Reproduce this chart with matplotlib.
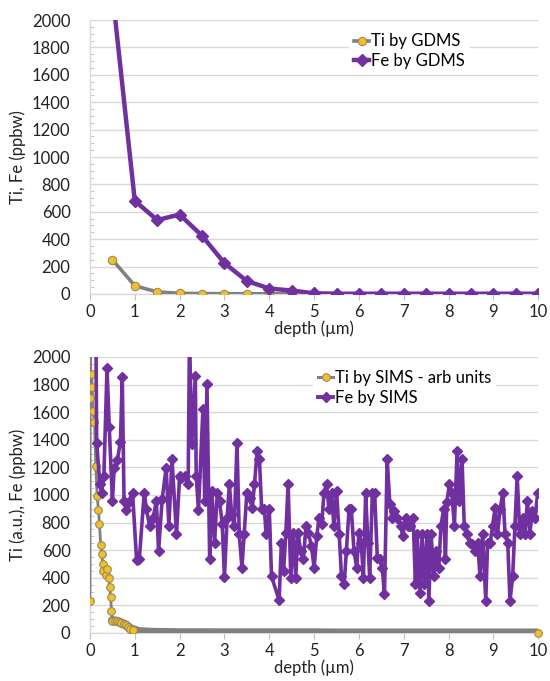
import matplotlib
matplotlib.use("Agg")
import matplotlib.pyplot as plt
from matplotlib.lines import Line2D
from matplotlib.ticker import MultipleLocator

plt.rcParams['font.family'] = ['Lato', 'DejaVu Sans']

PURPLE = '#7030A0'
GRAY = '#808080'
YELLOW = '#F2BF2A'
GRID = '#d9d9d9'

# top panel: GDMS
gdms_ti_depth = [0.5, 1, 1.5, 2, 2.5, 3, 3.5, 4, 4.5]
gdms_ti = [250, 60, 15, 5, 3, 2, 2, 1, 1]
gdms_fe_depth = [0.5, 1, 1.5, 2, 2.5, 3, 3.5, 4, 4.5, 5, 5.5, 6, 6.5, 7, 7.5, 8, 8.5, 9, 9.5, 10]
gdms_fe = [2200, 680, 540, 580, 425, 225, 95, 40, 25, 5, 2, 2, 2, 2, 2, 2, 2, 2, 2, 2]

# bottom panel: SIMS
sims_ti_depth = [0, 0.01, 0.01, 0.04, 0.05, 0.07, 0.1, 0.13, 0.16, 0.19, 0.21, 0.24, 0.27,
                 0.28, 0.3, 0.35, 0.39, 0.42, 0.44, 0.46, 0.48,
                 0.5, 0.55, 0.6, 0.65, 0.7, 0.75, 0.8, 0.85, 0.9, 0.95, 1.0, 1.05, 1.1,
                 1.15, 1.2, 1.3, 1.4, 1.5, 1.75, 2, 2.5, 3, 3.5, 4, 4.5, 5, 5.5, 6, 6.5,
                 7, 7.5, 8, 8.5, 9, 9.5, 10]
sims_ti = [230, 3000, 1700, 1875, 1780, 1605, 1530, 1210, 990, 890, 790, 640, 570,
           500, 450, 420, 465, 395, 335, 260, 160,
           90, 88, 85, 80, 72, 66, 58, 45, 32, 25, 20, 14, 11,
           9, 8, 6, 5, 4, 3, 2, 2, 1, 1, 1, 1, 1, 0, 0, 0,
           0, 0, 0, 0, 0, 0, 0]

sims_fe_depth = [0.05, 0.1, 0.15, 0.22, 0.26, 0.31, 0.38, 0.43, 0.5, 0.54, 0.61, 0.68, 0.72,
                 0.76, 0.81, 0.85, 0.95, 1.04, 1.1, 1.21, 1.26, 1.33, 1.41, 1.48, 1.53,
                 1.61, 1.7, 1.76, 1.83, 1.93, 2.0, 2.04, 2.13, 2.19, 2.22, 2.27, 2.35,
                 2.37, 2.42, 2.52, 2.56, 2.61, 2.67, 2.72, 2.78, 2.84, 2.89, 2.95, 3.0,
                 3.06, 3.11, 3.16, 3.22, 3.28, 3.33, 3.39, 3.44, 3.5, 3.56, 3.62, 3.67,
                 3.73, 3.78, 3.83, 3.89, 3.93, 4.0, 4.05, 4.22, 4.27, 4.32, 4.37, 4.42,
                 4.48, 4.54, 4.59, 4.64, 4.7, 4.76, 4.82, 4.87, 4.94, 5.0, 5.06, 5.11,
                 5.17, 5.22, 5.28, 5.33, 5.39, 5.44, 5.5, 5.56, 5.61, 5.67, 5.72, 5.78,
                 5.83, 5.89, 5.95, 6.0, 6.05, 6.1, 6.15, 6.2, 6.24, 6.3, 6.35, 6.41,
                 6.47, 6.52, 6.57, 6.63, 6.69, 6.74, 6.79, 6.85, 6.93, 6.98, 7.04, 7.09,
                 7.15, 7.21, 7.26, 7.3, 7.36, 7.41, 7.46, 7.52, 7.56, 7.61, 7.67, 7.73,
                 7.78, 7.83, 7.89, 7.93, 7.96, 8.02, 8.07, 8.13, 8.19, 8.24, 8.3, 8.35,
                 8.41, 8.47, 8.52, 8.59, 8.65, 8.7, 8.76, 8.83, 8.87, 8.93, 8.98, 9.04,
                 9.09, 9.15, 9.21, 9.26, 9.32, 9.37, 9.43, 9.48, 9.53, 9.59, 9.65, 9.7,
                 9.76, 9.81, 9.87, 9.93, 9.99]
sims_fe = [4000, 3500, 1380, 1078, 1017, 1138, 1919, 1494, 957, 1194, 1252, 1387, 1858,
           957, 890, 945, 1017, 527, 534, 1017, 897, 776, 836, 957, 594,
           969, 1199, 776, 1259, 716, 1138, 1126, 1138, 1078, 2150, 1368, 1863,
           1138, 890, 1622, 957, 1803, 534, 1030, 655, 1017, 957, 788, 406,
           836, 1078, 860, 776, 1380, 716, 473, 716, 1017, 981, 908, 1078,
           1319, 1259, 897, 897, 716, 897, 410, 237, 655, 450, 727, 1078,
           401, 727, 401, 727, 594, 534, 776, 727, 631, 473, 703, 836,
           788, 1017, 1078, 897, 1017, 776, 1030, 716, 413, 353, 594, 897,
           897, 594, 473, 727, 655, 401, 1017, 655, 401, 1017, 1017, 546,
           534, 473, 280, 1259, 933, 836, 884, 836, 776, 703, 836, 776,
           776, 836, 353, 716, 292, 716, 353, 716, 232, 716, 413, 594,
           473, 776, 897, 534, 950, 1078, 1017, 776, 1319, 957, 1259, 776,
           716, 655, 643, 594, 655, 413, 716, 232, 655, 655, 776, 908,
           716, 897, 1017, 716, 655, 232, 413, 776, 1138, 716, 836, 716,
           957, 716, 884, 836, 1017]

fig = plt.figure(figsize=(5.5, 6.81), dpi=100)
ax1 = fig.add_axes([0.1636, 0.5683, 0.815, 0.4023])
ax2 = fig.add_axes([0.1636, 0.0705, 0.815, 0.4053])

FS = 12


def style_axes(ax, ylabel):
    ax.set_xlim(0, 10)
    ax.set_ylim(0, 2000)
    ax.xaxis.set_major_locator(MultipleLocator(1))
    ax.yaxis.set_major_locator(MultipleLocator(200))
    ax.yaxis.set_minor_locator(MultipleLocator(50))
    ax.grid(axis='y', color=GRID, linewidth=1)
    ax.set_axisbelow(True)
    for s in ['top', 'right']:
        ax.spines[s].set_visible(False)
    for s in ['left', 'bottom']:
        ax.spines[s].set_color(GRID)
        ax.spines[s].set_linewidth(1)
    ax.tick_params(axis='both', which='major', labelsize=FS, color='#bfbfbf',
                   length=4, labelcolor='#222222')
    ax.tick_params(axis='y', which='major', length=0, pad=14)
    ax.tick_params(axis='y', which='minor', direction='in', length=3, color='#bfbfbf')
    ax.set_xlabel('depth (\u00b5m)', fontsize=FS, labelpad=0, color='#222222')
    ax.set_ylabel(ylabel, fontsize=FS, color='#222222', labelpad=4)


style_axes(ax1, 'Ti, Fe (ppbw)')
style_axes(ax2, 'Ti (a.u.), Fe (ppbw)')

# top
ax1.plot(gdms_ti_depth, gdms_ti, color=GRAY, lw=2.6, marker='o', ms=6,
         mfc=YELLOW, mec='#9a8a5a', mew=0.8, zorder=3)
ax1.plot(gdms_fe_depth, gdms_fe, color=PURPLE, lw=3.2, marker='D', ms=6.5,
         mfc=PURPLE, mec=PURPLE, zorder=4)
h1 = [Line2D([], [], color=GRAY, lw=2.6, marker='o', ms=6, mfc=YELLOW, mec='#9a8a5a', mew=0.8),
      Line2D([], [], color=PURPLE, lw=3.2, marker='D', ms=6.5, mfc=PURPLE, mec=PURPLE)]
ax1.legend(h1, ['Ti by GDMS', 'Fe by GDMS'], loc='upper left',
           bbox_to_anchor=(0.56, 1.0), fontsize=FS, handlelength=0.9,
           handletextpad=0.1, borderpad=0.3, labelspacing=0.2,
           frameon=True, fancybox=False, edgecolor='none', framealpha=1)

# bottom
band = 21  # index where the dense Ti tail starts
ax2.plot(sims_ti_depth, sims_ti, color=GRAY, lw=2.0, zorder=3)
ax2.plot(sims_ti_depth[band:], sims_ti[band:], color=GRAY, lw=6.5, zorder=3,
         solid_capstyle='round')
ax2.plot(sims_ti_depth[:band + 10], sims_ti[:band + 10], ls='none', marker='o', ms=5.5,
         mfc=YELLOW, mec='#9a8a5a', mew=0.8, zorder=3)
ax2.plot(sims_ti_depth[-1:], sims_ti[-1:], ls='none', marker='o', ms=5.5,
         mfc=YELLOW, mec='#9a8a5a', mew=0.8, zorder=3, clip_on=False)
ax2.plot(sims_fe_depth, sims_fe, color=PURPLE, lw=2.6, marker='D', ms=5.5,
         mfc=PURPLE, mec=PURPLE, zorder=4)
h2 = [Line2D([], [], color=GRAY, lw=2.2, marker='o', ms=5.5, mfc=YELLOW, mec='#9a8a5a', mew=0.8),
      Line2D([], [], color=PURPLE, lw=2.8, marker='D', ms=5.5, mfc=PURPLE, mec=PURPLE)]
ax2.legend(h2, ['Ti by SIMS - arb units', 'Fe by SIMS'], loc='upper left',
           bbox_to_anchor=(0.48, 1.0), fontsize=FS, handlelength=0.9,
           handletextpad=0.1, borderpad=0.3, labelspacing=0.2,
           frameon=True, fancybox=False, edgecolor='none', framealpha=1)

fig.savefig('out.png', dpi=100)
